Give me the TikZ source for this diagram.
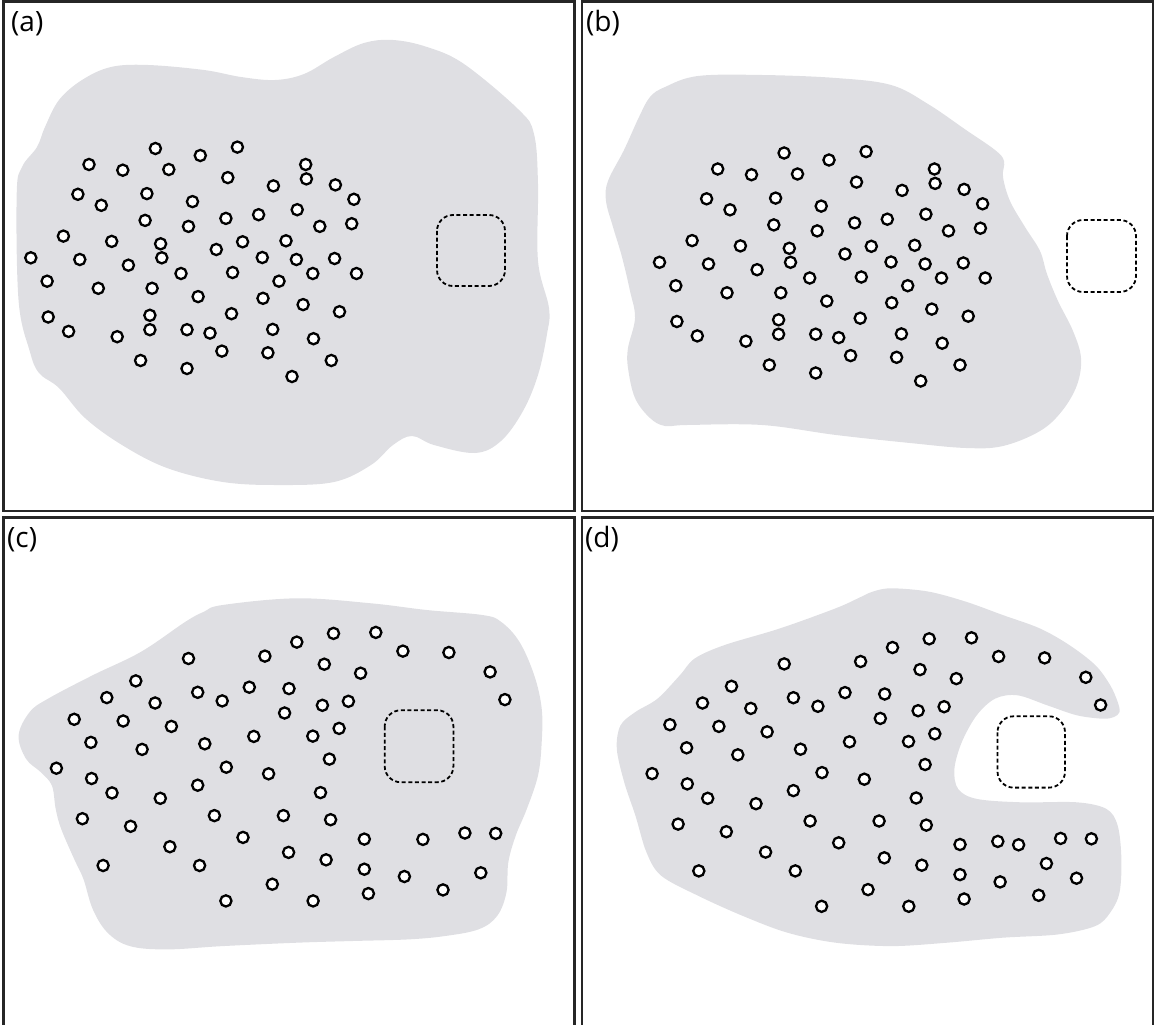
\documentclass[tikz,border=0pt]{standalone}
\usepackage{fontspec}
\setmainfont{Open Sans}
\definecolor{blobgray}{RGB}{223,223,227}
\begin{document}
\begin{tikzpicture}[x=1pt,y=-1pt,
  panel/.style={draw=black!85,line width=2.3pt},
  blob/.style={fill=blobgray},
  dot/.style={draw=black,fill=white,line width=2.3pt},
  hole/.style={draw=black,line width=1.8pt,dash pattern=on 4pt off 2.6pt,rounded corners=16pt},
  lab/.style={anchor=base west,inner sep=0pt,font=\fontsize{28}{32}\selectfont}]
\useasboundingbox (0,0) rectangle (1155,1024);
\def\ptsA{155.4/148.5,200.3/155.5,237.4/147.1,89.0/164.5,122.8/170.2,168.8/169.5,305.7/164.5,306.4/178.9,227.8/177.6,273.4/185.9,335.4/184.9,353.9/199.3,77.9/194.3,101.3/205.3,146.9/193.6,192.5/201.6,145.1/220.4,188.5/226.4,225.9/218.4,258.6/214.7,297.2/209.7,319.8/226.4,351.7/223.7,63.4/236.1,111.7/241.4,160.6/243.8,216.3/249.5,242.6/241.8,286.0/240.8,30.8/257.8,79.8/259.5,128.4/265.2,161.8/257.8,181.0/273.5,232.6/272.5,262.3/257.5,296.4/259.5,334.6/258.5,312.8/273.5,356.5/273.5,47.1/281.2,98.3/288.3,152.1/288.3,198.1/296.6,263.0/298.3,279.0/281.2,303.1/304.6,339.5/311.7,48.2/317.0,68.6/331.4,117.2/336.7,149.9/315.3,149.9/329.7,187.0/329.7,210.0/333.1,231.5/313.7,272.7/329.4,313.5/338.7,221.9/351.1,267.9/352.8,140.6/360.5,187.0/368.5,331.3/360.5,292.0/376.5}
\def\ptsC{188.5/658.5,264.9/656.1,296.8/642.1,333.5/633.4,375.8/632.4,402.9/651.1,448.9/652.5,490.1/671.9,324.3/664.2,360.6/673.2,135.8/680.9,106.8/697.6,155.1/703.0,197.7/692.3,222.2/700.9,249.3/687.2,289.0/688.6,322.4/705.3,348.4/701.3,284.6/713.0,504.9/699.6,74.2/719.3,123.2/721.0,171.4/726.4,90.9/742.4,142.1/749.4,204.8/743.8,253.8/736.4,312.8/736.1,339.1/728.4,329.4/759.1,56.4/768.2,91.6/778.5,112.0/792.9,160.3/798.3,197.7/785.2,226.3/767.2,268.6/773.8,320.5/792.6,82.4/818.7,130.6/826.3,214.4/815.6,283.4/815.6,330.6/819.7,243.0/837.4,364.3/839.1,422.9/839.4,464.9/833.0,495.7/833.4,169.9/846.7,103.1/865.5,199.6/865.5,288.6/852.4,326.1/859.8,364.3/869.2,404.4/876.5,480.8/872.8,272.3/884.2,443.0/889.9,225.9/900.9,313.1/900.9,368.4/893.6}
\def\ptsD{188.5/658.5,264.9/656.1,296.8/642.1,333.5/633.4,375.8/632.4,402.9/651.1,448.9/652.5,490.1/671.9,324.3/664.2,360.6/673.2,135.8/680.9,106.8/697.6,155.1/703.0,197.7/692.3,222.2/700.9,249.3/687.2,289.0/688.6,322.4/705.3,348.4/701.3,284.6/713.0,504.9/699.6,74.2/719.3,123.2/721.0,171.4/726.4,90.9/742.4,142.1/749.4,204.8/743.8,253.8/736.4,312.8/736.1,339.1/728.4,329.4/759.1,56.4/768.2,91.6/778.5,112.0/792.9,160.3/798.3,197.7/785.2,226.3/767.2,268.6/773.8,320.5/792.6,82.4/818.7,130.6/826.3,214.4/815.6,283.4/815.6,330.6/819.7,243.0/837.4,364.3/839.1,422.9/839.4,464.9/833.0,495.7/833.4,169.9/846.7,103.1/865.5,199.6/865.5,288.6/852.4,326.1/859.8,364.3/869.2,404.4/876.5,480.8/872.8,272.3/884.2,443.0/889.9,225.9/900.9,313.1/900.9,368.4/893.6,402.1/836.0,450.7/858.1}
% ---------- panel (a)
\fill[blob] plot[smooth cycle,tension=0.6] coordinates {(16.7,194) (18.6,301) (29.7,351) (39,373) (59,388) (85,418) (122,445) (167,468) (223,482) (278,485) (334,482) (371,465) (393,445) (412,436) (434,445) (475,453) (501,441) (523,411) (538,375) (547,334) (549,308) (538,261) (538,184) (534,134) (519,110) (464,64) (427,47) (393,40) (364,43) (334,57) (304,74) (275,80) (241,77) (204,70) (148,65) (111,67) (82,80) (59,100) (45,127) (37,147) (22,167)};
\foreach \px/\py in \ptsA {\draw[dot] (\px,\py) circle[radius=5.6pt];}
\draw[hole] (437,215) rectangle (505,286);
\draw[panel] (3.5,1.5) rectangle (574.5,511);
\node[lab] (la) at (11,32) {(a)};
% ---------- panel (b)
\fill[blob] plot[smooth cycle,tension=0.6] coordinates {(665,87) (698,76) (762,75) (836,78) (891,85) (928,104) (966,130) (995,150) (1004,161) (1003,177) (1010,201) (1025,227) (1040,251) (1047,274) (1058,301) (1073,331) (1081,358) (1077,385) (1062,411) (1040,431) (1003,446) (966,448) (910,443) (836,435) (762,425) (687,425) (665,426) (650,418) (635,398) (628,368) (628,348) (635,318) (630,291) (622,257) (613,227) (606,201) (608,181) (624,150) (639,117) (650,97)};
\begin{scope}[shift={(628.7,4.5)}]
\foreach \px/\py in \ptsA {\draw[dot] (\px,\py) circle[radius=5.6pt];}
\end{scope}
\draw[hole] (1067,220) rectangle (1136,292);
\draw[panel] (582,1.5) rectangle (1153,511);
\node[lab] (lb) at (586,32) {(b)};
% ---------- panel (c)
\fill[blob] plot[smooth cycle,tension=0.6] coordinates {(222.6,605.0) (296.8,598.3) (371,603.3) (426.7,610.0) (482.3,615.0) (500.9,621.7) (519.4,641.8) (534.2,675.2) (541.7,708.6) (541.7,742.1) (538,775.5) (526.8,809.0) (515.7,835.7) (508.3,862.5) (506.4,892.6) (497.1,916.0) (478.6,929.3) (445.2,936.0) (408.1,939.4) (352.5,941.0) (296.8,942.7) (222.6,946.1) (167,949.4) (129.9,946.1) (107.6,932.7) (92.8,909.3) (83.5,879.2) (74.2,859.1) (61.2,829.0) (55.7,809.0) (51.9,785.6) (40.8,772.2) (26,758.8) (18.6,735.4) (29.7,712.0) (48.2,698.6) (92.8,675.2) (141,651.8) (185.5,621.7) (204,611.7)};
\foreach \px/\py in \ptsC {\draw[dot] (\px,\py) circle[radius=5.6pt];}
\draw[hole] (384.7,710.3) rectangle (453.4,782.2);
\draw[panel] (3.5,517.5) rectangle (574.5,1030);
\node[lab] (lc) at (7,547) {(c)};
% ---------- panel (d)
\fill[blob] plot[smooth cycle,tension=0.55] coordinates {(872.8,591.6) (891.4,588.3) (928.5,591.6) (965.6,601.6) (1002.7,615.0) (1039.8,628.4) (1069.4,645.1) (1095.4,665.2) (1110.2,685.2) (1117.7,702.0) (1119.5,712.0) (1114,717.0) (1102.8,718.7) (1076.9,715.3) (1047.2,705.3) (1017.5,695.3) (995.2,698.6) (976.7,715.3) (961.8,742.1) (954.4,768.8) (958.1,788.9) (976.7,798.9) (1021.2,802.3) (1076.9,802.3) (1106.5,809.0) (1117.7,825.7) (1121.4,859.1) (1119.5,892.6) (1110.2,912.6) (1095.4,926.0) (1058.3,934.4) (1002.7,937.7) (947,942.7) (891.4,946.1) (835.7,942.7) (787.5,932.7) (743,916.0) (698.4,895.9) (661.3,875.8) (646.5,852.4) (635.4,815.6) (624.2,782.2) (616.8,748.8) (620.5,725.4) (635.4,712.0) (657.6,698.6) (679.9,675.2) (694.7,658.5) (724.4,645.1) (780,628.4) (835.7,608.3) (858,598.3)};
\begin{scope}[shift={(595.7,5.4)}]
\foreach \px/\py in \ptsD {\draw[dot] (\px,\py) circle[radius=5.6pt];}
\end{scope}
\draw[hole] (997.5,716.3) rectangle (1065,787.6);
\draw[panel] (582,517.5) rectangle (1153,1030);
\node[lab] (ld) at (585,547) {(d)};
\end{tikzpicture}
\end{document}
